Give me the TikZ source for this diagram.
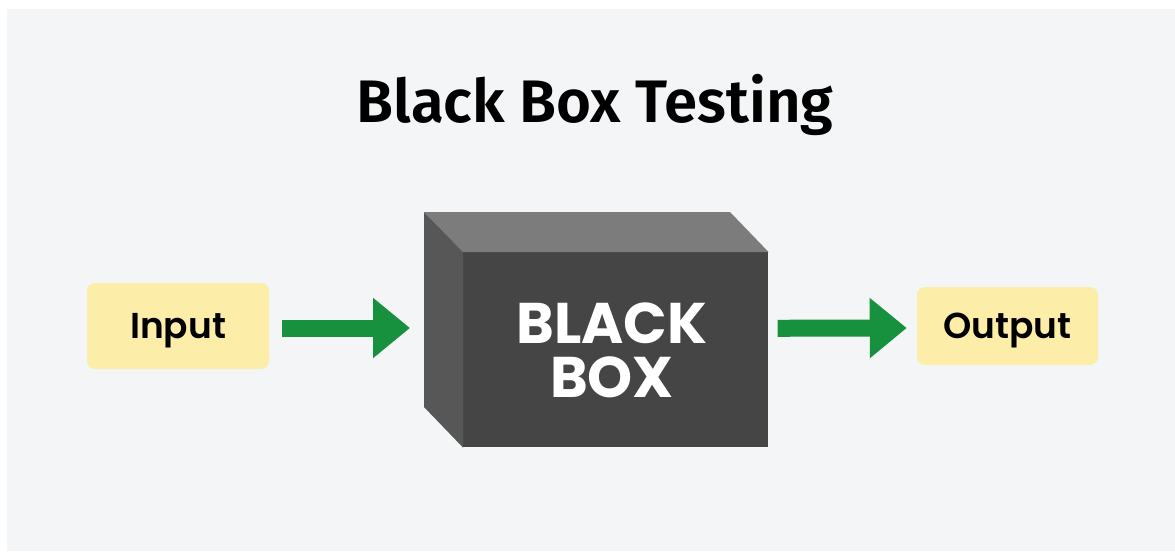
\documentclass[tikz,border=0pt]{standalone}
\usepackage{fontspec}
\setmainfont{Poppins}
\newfontfamily\titlefont{Fira Sans SemiBold}
\newfontfamily\popsemi{Poppins SemiBold}
\newfontfamily\popbold{Poppins Bold}
\usetikzlibrary{arrows.meta,calc}
\definecolor{bg}{HTML}{F3F5F7}
\definecolor{boxfront}{HTML}{454545}
\definecolor{boxtop}{HTML}{7C7C7C}
\definecolor{boxside}{HTML}{575757}
\definecolor{labelfill}{HTML}{FCEEA8}
\definecolor{arrowgreen}{HTML}{18913F}
\tikzset{
  iobox/.style={fill=labelfill, rounded corners=6pt, inner sep=0pt, text height=18.75pt, text depth=0pt, font=\popsemi\fontsize{27}{30}\selectfont, text=black},
  flowarrow/.style={draw=arrowgreen, line width=12.75pt, -{Triangle[length=27.75pt, width=43.5pt]}},
}
\begin{document}
\begin{tikzpicture}[x=0.75pt,y=-0.75pt]
\useasboundingbox (0,0) rectangle (1175,551);
\fill[white] (0,0) rectangle (1175,551);
\fill[bg] (7,9) rectangle (1175,551);
% title
\node[anchor=base, font=\titlefont\fontsize{45}{50}\selectfont, inner sep=0pt] (title) at (595,122) {Black Box Testing};
% black box
\node[fill=boxfront, minimum width=228.75pt, minimum height=146.25pt, inner sep=0pt, anchor=north west] (box) at (463,252) {};
\fill[boxtop] (box.north west) -- ++(-39,-40) -- ++(306,0) -- (box.north east) -- cycle;
\fill[boxside] (box.north west) -- ++(-39,-40) -- ++(0,195) -- (box.south west) -- cycle;
\node[font=\popbold\fontsize{43}{40.5}\selectfont, text=white, align=center, inner sep=0pt] (boxtext) at (612,350) {BLACK\\BOX};
\coordinate (boxleft) at (424,328);
% input / output
\node[iobox, minimum width=136.5pt, minimum height=64.5pt] (input) at (178,326) {Input};
\node[iobox, minimum width=135.75pt, minimum height=58.5pt] (output) at (1007.5,326) {Output};
% arrows
\draw[flowarrow] ($(input.east)+(13,2)$) -- ($(boxleft)+(-14,0)$);
\draw[flowarrow] ($(box.east)+(9,-21.5)$) -- ($(output.west)+(-10,2)$);
\end{tikzpicture}
\end{document}
